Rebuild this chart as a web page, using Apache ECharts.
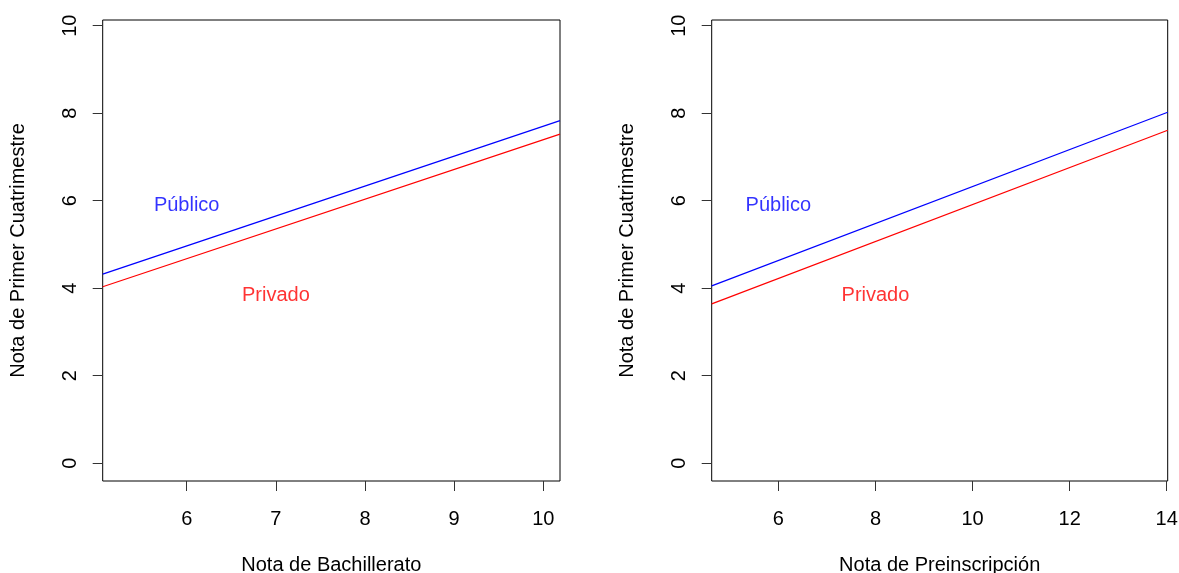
<!DOCTYPE html>
<html>
<head>
<meta charset="utf-8">
<script src="https://cdn.jsdelivr.net/npm/echarts@6/dist/echarts.min.js"></script>
<style>
html,body{margin:0;padding:0;background:#fff;}
#chart{width:1179px;height:573px;}
</style>
</head>
<body>
<div id="chart"></div>
<script>
// ---- data ----
const yTicks = [0, 2, 4, 6, 8, 10];
const xTicksBach = [6, 7, 8, 9, 10];
const xTicksPre = [6, 8, 10, 12, 14];

// regression lines (value at left and right plot edges)
const xEdgesBach = [5.058, 10.187];
const publicoBach = [4.32, 7.83];
const privadoBach = [4.03, 7.52];

const xEdgesPre = [4.627, 14.02];
const publicoPre = [4.05, 8.02];
const privadoPre = [3.64, 7.61];

// text labels [x, y, text]
const labelsBach = [[6, 5.95, 'Público'], [7, 3.9, 'Privado']];
const labelsPre = [[6, 5.95, 'Público'], [8, 3.9, 'Privado']];

const yRange = [-0.41, 10.13];
const xTitles = ['Nota de Bachillerato', 'Nota de Preinscripción'];
const yTitle = 'Nota de Primer Cuatrimestre';

// ---- chart ----
const FONT = 'Liberation Sans, Arial, sans-serif';
const FS = 20;
const BLUE = '#0000FF', RED = '#FF0000';

function pairs(xs, ys) { return xs.map((x, i) => [x, ys[i]]); }

function xAxis(idx, edges, ticks, title) {
  return {
    type: 'value', gridIndex: idx, min: edges[0], max: edges[1], position: 'bottom',
    axisLine: { show: false, onZero: false },
    splitLine: { show: false },
    axisTick: { show: true, inside: false, length: 10, customValues: ticks, lineStyle: { color: '#333', width: 1 } },
    axisLabel: { show: true, customValues: ticks, margin: 28, color: '#000', fontFamily: FONT, fontSize: FS },
    name: title, nameLocation: 'middle', nameGap: 74,
    nameTextStyle: { color: '#000', fontFamily: FONT, fontSize: FS }
  };
}
function yAxis(idx) {
  return {
    type: 'value', gridIndex: idx, min: yRange[0], max: yRange[1], position: 'left',
    axisLine: { show: false, onZero: false },
    splitLine: { show: false },
    axisTick: { show: true, inside: false, length: 10, customValues: yTicks, lineStyle: { color: '#333', width: 1 } },
    axisLabel: { show: true, customValues: yTicks, rotate: 90, margin: 22, color: '#000', fontFamily: FONT, fontSize: FS },
    name: yTitle, nameLocation: 'middle', nameGap: 74, nameRotate: 90,
    nameTextStyle: { color: '#000', fontFamily: FONT, fontSize: FS }
  };
}
function lineSeries(idx, edges, ys, color, name) {
  return {
    type: 'line', name: name, xAxisIndex: idx, yAxisIndex: idx,
    data: pairs(edges, ys), showSymbol: false, symbol: 'none',
    lineStyle: { color: color, width: 1.2 }, animation: false, silent: true
  };
}
function textSeries(idx, labels) {
  return {
    type: 'scatter', xAxisIndex: idx, yAxisIndex: idx, symbolSize: 0,
    data: labels.map(l => ({ value: [l[0], l[1]], name: l[2],
      label: { color: l[2] === 'Público' ? BLUE : RED } })),
    label: { show: true, position: 'inside', offset: [0, 3], formatter: p => p.name,
      fontFamily: FONT, fontSize: FS },
    animation: false, silent: true
  };
}

const chart = echarts.init(document.getElementById('chart'), null, { renderer: 'canvas' });
chart.setOption({
  backgroundColor: '#fff',
  animation: false,
  grid: [
    { left: 102.7, top: 20, width: 457.3, height: 461, show: true, borderColor: '#000', borderWidth: 1, backgroundColor: 'transparent', containLabel: false, outerBoundsMode: 'none' },
    { left: 711.7, top: 20, width: 456, height: 461, show: true, borderColor: '#000', borderWidth: 1, backgroundColor: 'transparent', containLabel: false, outerBoundsMode: 'none' }
  ],
  xAxis: [xAxis(0, xEdgesBach, xTicksBach, xTitles[0]), xAxis(1, xEdgesPre, xTicksPre, xTitles[1])],
  yAxis: [yAxis(0), yAxis(1)],
  series: [
    lineSeries(0, xEdgesBach, publicoBach, BLUE, 'Público'),
    lineSeries(0, xEdgesBach, privadoBach, RED, 'Privado'),
    lineSeries(1, xEdgesPre, publicoPre, BLUE, 'Público'),
    lineSeries(1, xEdgesPre, privadoPre, RED, 'Privado'),
    textSeries(0, labelsBach),
    textSeries(1, labelsPre)
  ]
});
</script>
</body>
</html>
